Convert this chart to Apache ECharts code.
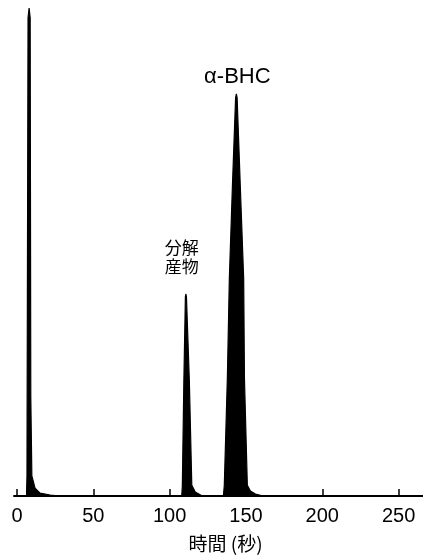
<!DOCTYPE html>
<html>
<head>
<meta charset="utf-8">
<style>
  html, body { margin: 0; padding: 0; background: #fff; }
  #chart { width: 423px; height: 558px; }
</style>
<script src="https://cdn.jsdelivr.net/npm/echarts@6/dist/echarts.min.js"></script>
</head>
<body>
<div id="chart"></div>
<script>
// Gas chromatogram: retention time (s) vs detector response (relative units)

// Solvent front
const solventTime   = [0, 6.2, 6.5, 7.2, 7.9, 8.6, 9.0, 9.7, 11.8, 15.1, 21.7, 28.2];
const solventSignal = [0, 0, 4.1, 98, 100, 98, 20.4, 4.1, 1.6, 0.6, 0.2, 0];

// Decomposition product
const productTime   = [107.9, 108.3, 109.3, 110.3, 110.6, 111.0, 112.9, 114.5, 116.8, 121.4];
const productSignal = [0, 2.0, 23.5, 40.8, 41.4, 40.8, 23.5, 2.2, 0.8, 0];

// alpha-BHC
const bhcTime   = [135.2, 135.8, 137.8, 139.1, 141.1, 143.2, 143.7, 144.2, 146.3, 148.5, 149.0, 150.9, 152.9, 156.2, 161.4, 266];
const bhcSignal = [0, 2.2, 24.1, 44.5, 63.3, 81.6, 82.4, 81.6, 63.3, 44.5, 24.1, 2.2, 1.0, 0.4, 0, 0];

const tickValues = [0, 50, 100, 150, 200, 250];
const peakNames = { product: '分解\n産物', bhc: 'α-BHC' };

function pairs(t, v) { return t.map((x, i) => [x, v[i]]); }
const trace = [].concat(
  pairs(solventTime, solventSignal),
  pairs(productTime, productSignal),
  pairs(bhcTime, bhcSignal)
);

function peakTop(t, v) {
  let k = 0;
  v.forEach((y, i) => { if (y > v[k]) k = i; });
  return [t[k], v[k]];
}

const chart = echarts.init(document.getElementById('chart'));
chart.setOption({
  animation: false,
  backgroundColor: '#fff',
  grid: { left: 14, right: 0, top: 8, bottom: 60 },
  xAxis: {
    type: 'value',
    min: -2,
    max: 266,
    splitLine: { show: false },
    axisLine: { show: true, lineStyle: { color: '#000', width: 2 } },
    axisTick: {
      show: true, inside: true, length: 7,
      customValues: tickValues,
      lineStyle: { color: '#000', width: 1.5 }
    },
    axisLabel: {
      customValues: tickValues,
      margin: 10,
      color: '#000',
      fontFamily: 'Liberation Sans Narrow, Liberation Sans, sans-serif',
      fontSize: 20
    },
    name: '時間 (秒)',
    nameLocation: 'middle',
    nameGap: 38,
    nameTextStyle: {
      color: '#000',
      fontFamily: 'Noto Sans CJK JP',
      fontSize: 19,
      padding: [0, 0, 0, 14]
    }
  },
  yAxis: {
    type: 'value',
    min: 0,
    max: 100,
    show: false
  },
  series: [{
    type: 'line',
    data: trace,
    symbol: 'none',
    lineStyle: { color: '#000', width: 1.2 },
    areaStyle: { color: '#000', opacity: 1 },
    markPoint: {
      symbol: 'circle',
      symbolSize: 0,
      label: { show: true, color: '#000' },
      data: [
        {
          coord: peakTop(productTime, productSignal),
          label: {
            formatter: peakNames.product,
            position: 'top',
            distance: 18,
            offset: [-4, 0],
            fontFamily: 'Noto Sans CJK JP',
            fontSize: 17,
            lineHeight: 19,
            align: 'center'
          }
        },
        {
          coord: peakTop(bhcTime, bhcSignal),
          label: {
            formatter: peakNames.bhc,
            position: 'top',
            distance: 6,
            offset: [1, 0],
            fontFamily: 'Liberation Sans, sans-serif',
            fontSize: 22
          }
        }
      ]
    }
  }]
});
</script>
</body>
</html>
